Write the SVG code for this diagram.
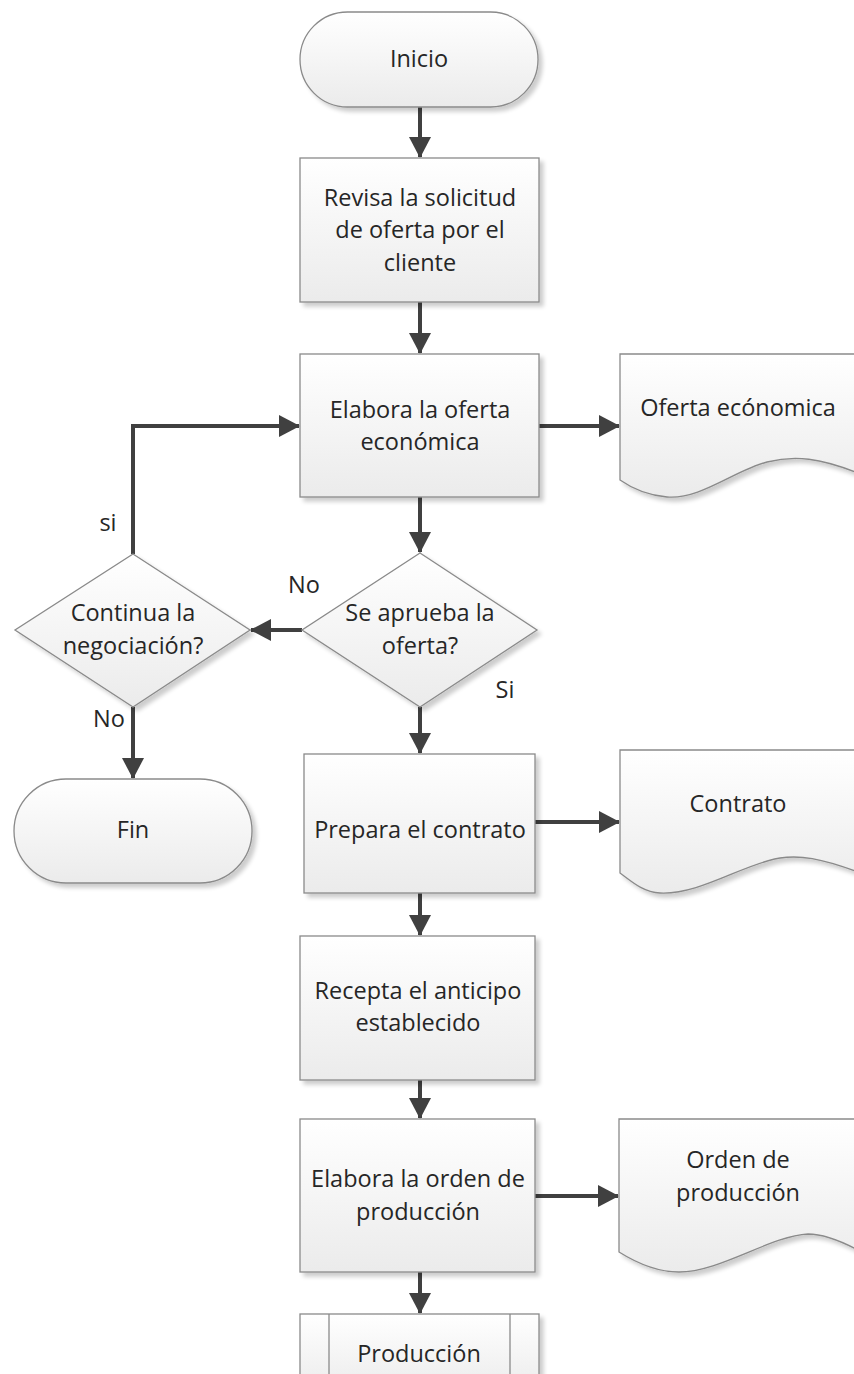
<svg xmlns="http://www.w3.org/2000/svg" width="854" height="1374" viewBox="0 0 854 1374">
<style>
.shape{fill:url(#g);stroke:#8a8a8a;stroke-width:1.3;filter:url(#sh)}
.t{font-family:"Open Sans","Liberation Sans",sans-serif;font-size:23.5px;fill:#262626;text-anchor:middle}
.c{fill:none;stroke:#404040;stroke-width:4;marker-end:url(#ah)}
.in{stroke:#8a8a8a;stroke-width:1.3}
</style>
<defs>
<linearGradient id="g" x1="0" y1="0" x2="0" y2="1">
<stop offset="0" stop-color="#ffffff"/>
<stop offset="1" stop-color="#ebebeb"/>
</linearGradient>
<filter id="sh" x="-10%" y="-10%" width="125%" height="125%">
<feGaussianBlur in="SourceAlpha" stdDeviation="2"/>
<feOffset dx="4" dy="4" result="b"/>
<feComponentTransfer><feFuncA type="linear" slope="0.2"/></feComponentTransfer>
<feMerge><feMergeNode/><feMergeNode in="SourceGraphic"/></feMerge>
</filter>
<marker id="ah" markerUnits="userSpaceOnUse" markerWidth="21" markerHeight="22" refX="20" refY="11" orient="auto" viewBox="0 0 21 22">
<path d="M0,0 L21,11 L0,22 z" fill="#404040"/>
</marker>
</defs>
<rect width="854" height="1374" fill="#ffffff"/>

<g id="connectors">
<path class="c" d="M420,107 V157"/>
<path class="c" d="M420,302 V353"/>
<path class="c" d="M539,426 H619"/>
<path class="c" d="M420,497 V552"/>
<path class="c" d="M302,630 H251"/>
<path class="c" d="M133,554 V426 H299"/>
<path class="c" d="M133,707 V778"/>
<path class="c" d="M420,707 V753"/>
<path class="c" d="M535,822 H619"/>
<path class="c" d="M420,893 V935"/>
<path class="c" d="M420,1080 V1118"/>
<path class="c" d="M535,1196 H618"/>
<path class="c" d="M420,1272 V1313"/>
</g>

<g id="labels">
<text class="t" x="304" y="593">No</text>
<text class="t" x="108" y="531">si</text>
<text class="t" x="505" y="698">Si</text>
<text class="t" x="109" y="727">No</text>
</g>

<g id="inicio">
<rect class="shape" x="300" y="12" width="238" height="95" rx="47.5"/>
<text class="t" x="419" y="67">Inicio</text>
</g>

<g id="revisa">
<rect class="shape" x="300" y="158" width="239" height="144"/>
<text class="t" x="420" y="206">Revisa la solicitud</text>
<text class="t" x="420" y="238">de oferta por el</text>
<text class="t" x="420" y="271">cliente</text>
</g>

<g id="elabora-oferta">
<rect class="shape" x="300" y="354" width="239" height="143"/>
<text class="t" x="420" y="418">Elabora la oferta</text>
<text class="t" x="420" y="450">económica</text>
</g>

<g id="doc-oferta">
<path class="shape" d="M620,354 H858 V473 C820,458 795,455 767,462 C735,470 700,500 667,497 C645,495 630,487 620,480 Z"/>
<text class="t" x="738" y="416">Oferta ecónomica</text>
</g>

<g id="se-aprueba">
<path class="shape" d="M420,553 L537,630 L420,707 L302,630 Z"/>
<text class="t" x="420" y="621">Se aprueba la</text>
<text class="t" x="420" y="654">oferta?</text>
</g>

<g id="continua">
<path class="shape" d="M133,554 L250,630 L133,707 L15,630 Z"/>
<text class="t" x="133" y="621">Continua la</text>
<text class="t" x="133" y="654">negociación?</text>
</g>

<g id="fin">
<rect class="shape" x="14" y="779" width="238" height="104" rx="52"/>
<text class="t" x="133" y="838">Fin</text>
</g>

<g id="prepara">
<rect class="shape" x="304" y="754" width="231" height="139"/>
<text class="t" x="420" y="838">Prepara el contrato</text>
</g>

<g id="doc-contrato">
<path class="shape" d="M620,750 H858 V872 C820,858 800,855 780,858 C745,863 700,895 660,893 C642,892 630,880 620,873 Z"/>
<text class="t" x="738" y="812">Contrato</text>
</g>

<g id="recepta">
<rect class="shape" x="300" y="936" width="235" height="144"/>
<text class="t" x="418" y="999">Recepta el anticipo</text>
<text class="t" x="418" y="1031">establecido</text>
</g>

<g id="elabora-orden">
<rect class="shape" x="300" y="1119" width="235" height="153"/>
<text class="t" x="418" y="1187">Elabora la orden de</text>
<text class="t" x="418" y="1220">producción</text>
</g>

<g id="doc-orden">
<path class="shape" d="M619,1119 H858 V1250 C835,1238 820,1234 808,1234 C770,1236 720,1272 679,1272 C655,1272 635,1262 619,1252 Z"/>
<text class="t" x="738" y="1168">Orden de</text>
<text class="t" x="738" y="1201">producción</text>
</g>

<g id="produccion">
<rect class="shape" x="300" y="1314" width="239" height="80"/>
<line class="in" x1="329" y1="1314" x2="329" y2="1374"/>
<line class="in" x1="510" y1="1314" x2="510" y2="1374"/>
<text class="t" x="419" y="1362">Producción</text>
</g>
</svg>
